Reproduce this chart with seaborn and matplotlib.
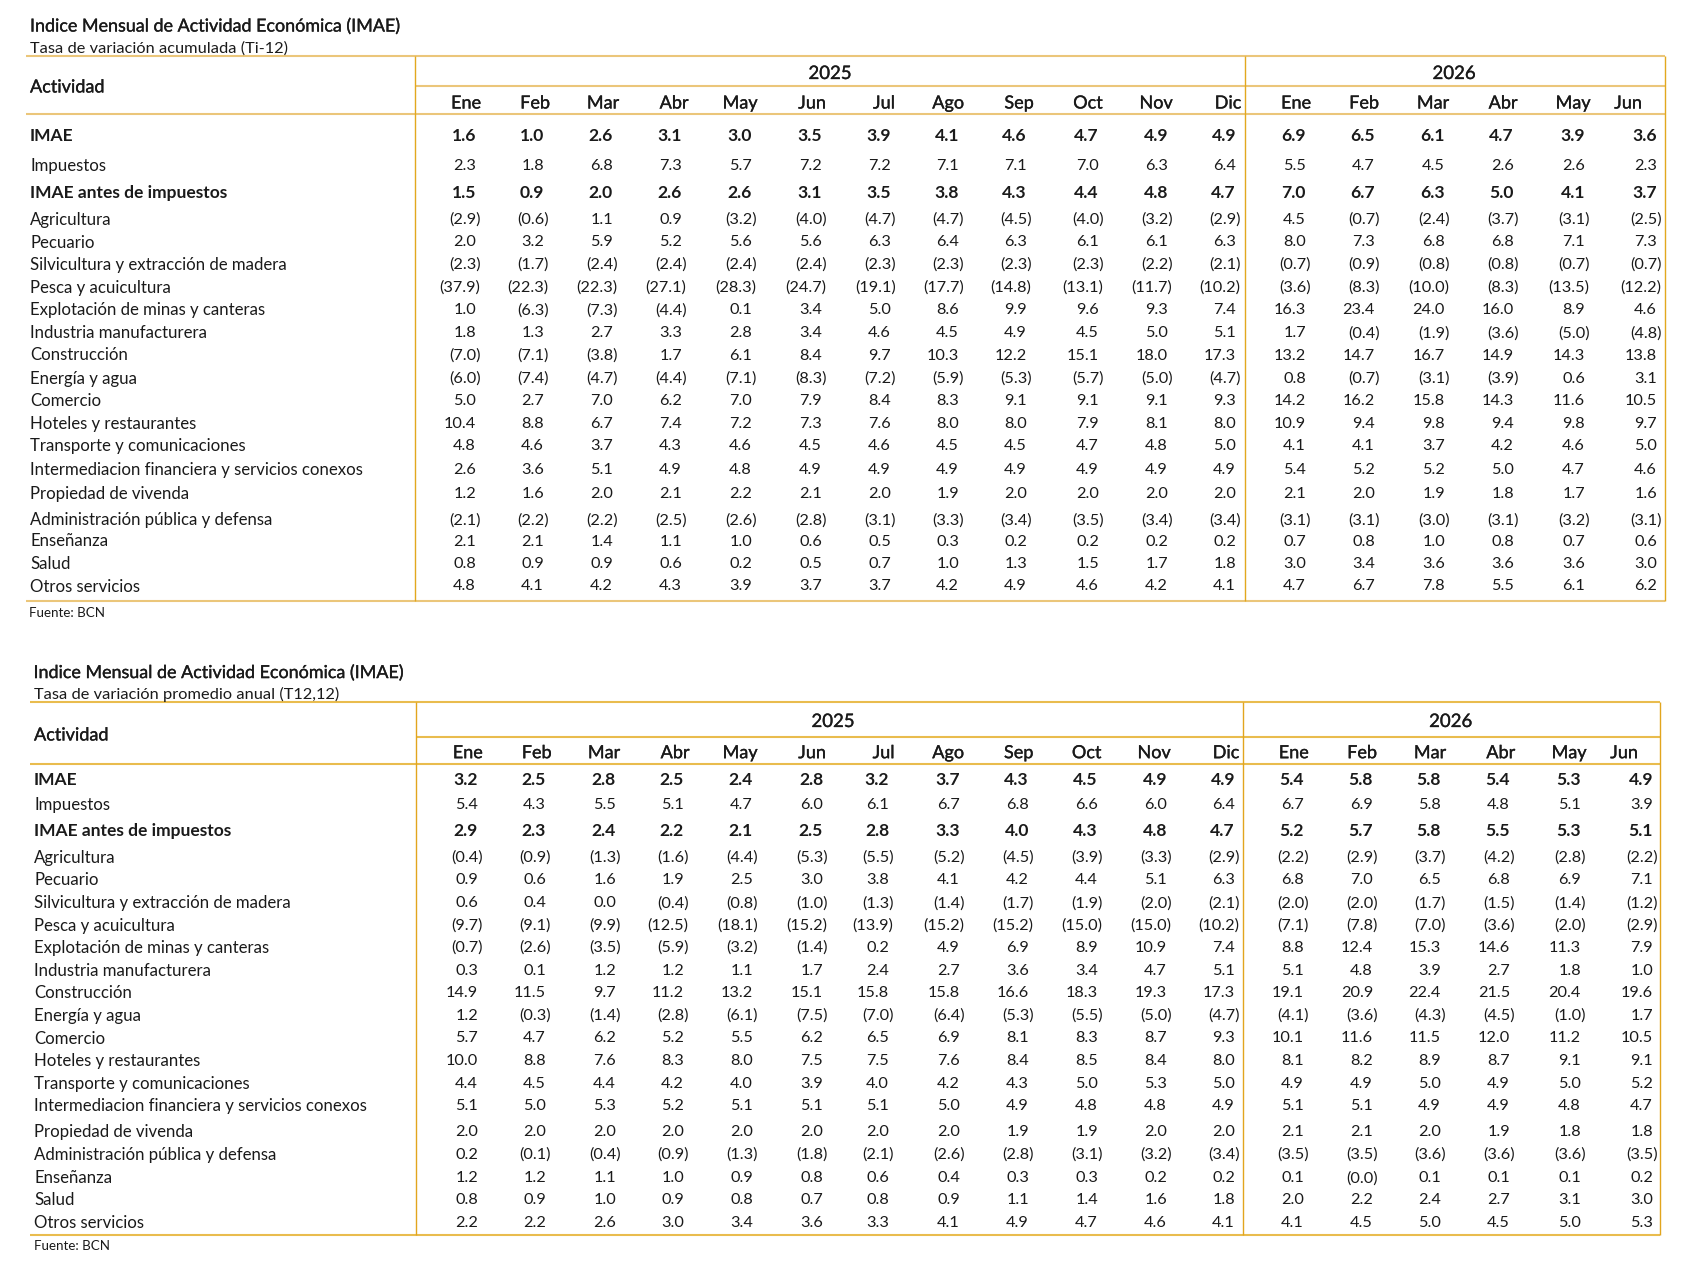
import numpy as np
import matplotlib
matplotlib.use("Agg")
import matplotlib.pyplot as plt
import matplotlib.patheffects as pe
import seaborn as sns

# ---------------- data ----------------
activities = [
    "IMAE", "Impuestos", "IMAE antes de impuestos", "Agricultura", "Pecuario",
    "Silvicultura y extracción de madera", "Pesca y acuicultura",
    "Explotación de minas y canteras", "Industria manufacturera", "Construcción",
    "Energía y agua", "Comercio", "Hoteles y restaurantes",
    "Transporte y comunicaciones", "Intermediacion financiera y servicios conexos",
    "Propiedad de vivenda", "Administración pública y defensa", "Enseñanza",
    "Salud", "Otros servicios",
]
bold_rows = ["IMAE", "IMAE antes de impuestos"]
years = ["2025", "2026"]
months_2025 = ["Ene", "Feb", "Mar", "Abr", "May", "Jun", "Jul", "Ago", "Sep", "Oct", "Nov", "Dic"]
months_2026 = ["Ene", "Feb", "Mar", "Abr", "May", "Jun"]

title_1 = "Indice Mensual de Actividad Económica (IMAE)"
subtitle_1 = "Tasa de variación acumulada (Ti-12)"
title_2 = "Indice Mensual de Actividad Económica (IMAE)"
subtitle_2 = "Tasa de variación promedio anual (T12,12)"
source_text = "Fuente: BCN"
header_label = "Actividad"

# Tasa de variación acumulada (Ti-12)
acum = [
    [1.6, 1.0, 2.6, 3.1, 3.0, 3.5, 3.9, 4.1, 4.6, 4.7, 4.9, 4.9, 6.9, 6.5, 6.1, 4.7, 3.9, 3.6],
    [2.3, 1.8, 6.8, 7.3, 5.7, 7.2, 7.2, 7.1, 7.1, 7.0, 6.3, 6.4, 5.5, 4.7, 4.5, 2.6, 2.6, 2.3],
    [1.5, 0.9, 2.0, 2.6, 2.6, 3.1, 3.5, 3.8, 4.3, 4.4, 4.8, 4.7, 7.0, 6.7, 6.3, 5.0, 4.1, 3.7],
    [-2.9, -0.6, 1.1, 0.9, -3.2, -4.0, -4.7, -4.7, -4.5, -4.0, -3.2, -2.9, 4.5, -0.7, -2.4, -3.7, -3.1, -2.5],
    [2.0, 3.2, 5.9, 5.2, 5.6, 5.6, 6.3, 6.4, 6.3, 6.1, 6.1, 6.3, 8.0, 7.3, 6.8, 6.8, 7.1, 7.3],
    [-2.3, -1.7, -2.4, -2.4, -2.4, -2.4, -2.3, -2.3, -2.3, -2.3, -2.2, -2.1, -0.7, -0.9, -0.8, -0.8, -0.7, -0.7],
    [-37.9, -22.3, -22.3, -27.1, -28.3, -24.7, -19.1, -17.7, -14.8, -13.1, -11.7, -10.2, -3.6, -8.3, -10.0, -8.3, -13.5, -12.2],
    [1.0, -6.3, -7.3, -4.4, 0.1, 3.4, 5.0, 8.6, 9.9, 9.6, 9.3, 7.4, 16.3, 23.4, 24.0, 16.0, 8.9, 4.6],
    [1.8, 1.3, 2.7, 3.3, 2.8, 3.4, 4.6, 4.5, 4.9, 4.5, 5.0, 5.1, 1.7, -0.4, -1.9, -3.6, -5.0, -4.8],
    [-7.0, -7.1, -3.8, 1.7, 6.1, 8.4, 9.7, 10.3, 12.2, 15.1, 18.0, 17.3, 13.2, 14.7, 16.7, 14.9, 14.3, 13.8],
    [-6.0, -7.4, -4.7, -4.4, -7.1, -8.3, -7.2, -5.9, -5.3, -5.7, -5.0, -4.7, 0.8, -0.7, -3.1, -3.9, 0.6, 3.1],
    [5.0, 2.7, 7.0, 6.2, 7.0, 7.9, 8.4, 8.3, 9.1, 9.1, 9.1, 9.3, 14.2, 16.2, 15.8, 14.3, 11.6, 10.5],
    [10.4, 8.8, 6.7, 7.4, 7.2, 7.3, 7.6, 8.0, 8.0, 7.9, 8.1, 8.0, 10.9, 9.4, 9.8, 9.4, 9.8, 9.7],
    [4.8, 4.6, 3.7, 4.3, 4.6, 4.5, 4.6, 4.5, 4.5, 4.7, 4.8, 5.0, 4.1, 4.1, 3.7, 4.2, 4.6, 5.0],
    [2.6, 3.6, 5.1, 4.9, 4.8, 4.9, 4.9, 4.9, 4.9, 4.9, 4.9, 4.9, 5.4, 5.2, 5.2, 5.0, 4.7, 4.6],
    [1.2, 1.6, 2.0, 2.1, 2.2, 2.1, 2.0, 1.9, 2.0, 2.0, 2.0, 2.0, 2.1, 2.0, 1.9, 1.8, 1.7, 1.6],
    [-2.1, -2.2, -2.2, -2.5, -2.6, -2.8, -3.1, -3.3, -3.4, -3.5, -3.4, -3.4, -3.1, -3.1, -3.0, -3.1, -3.2, -3.1],
    [2.1, 2.1, 1.4, 1.1, 1.0, 0.6, 0.5, 0.3, 0.2, 0.2, 0.2, 0.2, 0.7, 0.8, 1.0, 0.8, 0.7, 0.6],
    [0.8, 0.9, 0.9, 0.6, 0.2, 0.5, 0.7, 1.0, 1.3, 1.5, 1.7, 1.8, 3.0, 3.4, 3.6, 3.6, 3.6, 3.0],
    [4.8, 4.1, 4.2, 4.3, 3.9, 3.7, 3.7, 4.2, 4.9, 4.6, 4.2, 4.1, 4.7, 6.7, 7.8, 5.5, 6.1, 6.2],
]

# Tasa de variación promedio anual (T12,12)
promedio = [
    [3.2, 2.5, 2.8, 2.5, 2.4, 2.8, 3.2, 3.7, 4.3, 4.5, 4.9, 4.9, 5.4, 5.8, 5.8, 5.4, 5.3, 4.9],
    [5.4, 4.3, 5.5, 5.1, 4.7, 6.0, 6.1, 6.7, 6.8, 6.6, 6.0, 6.4, 6.7, 6.9, 5.8, 4.8, 5.1, 3.9],
    [2.9, 2.3, 2.4, 2.2, 2.1, 2.5, 2.8, 3.3, 4.0, 4.3, 4.8, 4.7, 5.2, 5.7, 5.8, 5.5, 5.3, 5.1],
    [-0.4, -0.9, -1.3, -1.6, -4.4, -5.3, -5.5, -5.2, -4.5, -3.9, -3.3, -2.9, -2.2, -2.9, -3.7, -4.2, -2.8, -2.2],
    [0.9, 0.6, 1.6, 1.9, 2.5, 3.0, 3.8, 4.1, 4.2, 4.4, 5.1, 6.3, 6.8, 7.0, 6.5, 6.8, 6.9, 7.1],
    [0.6, 0.4, 0.0, -0.4, -0.8, -1.0, -1.3, -1.4, -1.7, -1.9, -2.0, -2.1, -2.0, -2.0, -1.7, -1.5, -1.4, -1.2],
    [-9.7, -9.1, -9.9, -12.5, -18.1, -15.2, -13.9, -15.2, -15.2, -15.0, -15.0, -10.2, -7.1, -7.8, -7.0, -3.6, -2.0, -2.9],
    [-0.7, -2.6, -3.5, -5.9, -3.2, -1.4, 0.2, 4.9, 6.9, 8.9, 10.9, 7.4, 8.8, 12.4, 15.3, 14.6, 11.3, 7.9],
    [0.3, 0.1, 1.2, 1.2, 1.1, 1.7, 2.4, 2.7, 3.6, 3.4, 4.7, 5.1, 5.1, 4.8, 3.9, 2.7, 1.8, 1.0],
    [14.9, 11.5, 9.7, 11.2, 13.2, 15.1, 15.8, 15.8, 16.6, 18.3, 19.3, 17.3, 19.1, 20.9, 22.4, 21.5, 20.4, 19.6],
    [1.2, -0.3, -1.4, -2.8, -6.1, -7.5, -7.0, -6.4, -5.3, -5.5, -5.0, -4.7, -4.1, -3.6, -4.3, -4.5, -1.0, 1.7],
    [5.7, 4.7, 6.2, 5.2, 5.5, 6.2, 6.5, 6.9, 8.1, 8.3, 8.7, 9.3, 10.1, 11.6, 11.5, 12.0, 11.2, 10.5],
    [10.0, 8.8, 7.6, 8.3, 8.0, 7.5, 7.5, 7.6, 8.4, 8.5, 8.4, 8.0, 8.1, 8.2, 8.9, 8.7, 9.1, 9.1],
    [4.4, 4.5, 4.4, 4.2, 4.0, 3.9, 4.0, 4.2, 4.3, 5.0, 5.3, 5.0, 4.9, 4.9, 5.0, 4.9, 5.0, 5.2],
    [5.1, 5.0, 5.3, 5.2, 5.1, 5.1, 5.1, 5.0, 4.9, 4.8, 4.8, 4.9, 5.1, 5.1, 4.9, 4.9, 4.8, 4.7],
    [2.0, 2.0, 2.0, 2.0, 2.0, 2.0, 2.0, 2.0, 1.9, 1.9, 2.0, 2.0, 2.1, 2.1, 2.0, 1.9, 1.8, 1.8],
    [0.2, -0.1, -0.4, -0.9, -1.3, -1.8, -2.1, -2.6, -2.8, -3.1, -3.2, -3.4, -3.5, -3.5, -3.6, -3.6, -3.6, -3.5],
    [1.2, 1.2, 1.1, 1.0, 0.9, 0.8, 0.6, 0.4, 0.3, 0.3, 0.2, 0.2, 0.1, -0.0, 0.1, 0.1, 0.1, 0.2],
    [0.8, 0.9, 1.0, 0.9, 0.8, 0.7, 0.8, 0.9, 1.1, 1.4, 1.6, 1.8, 2.0, 2.2, 2.4, 2.7, 3.1, 3.0],
    [2.2, 2.2, 2.6, 3.0, 3.4, 3.6, 3.3, 4.1, 4.9, 4.7, 4.6, 4.1, 4.1, 4.5, 5.0, 4.5, 5.0, 5.3],
]

# ---------------- layout (pixel coordinates) ----------------
W, H = 1694, 1264
layout_top = dict(
    title_xy=(30, 25), sub_xy=(30, 47), left=26, right=1665, col_div=415, year_div=1244.5,
    y_top=56, y_year=86, y_head=114, y_bottom=601,
    year_x=[830, 1454], year_y=72, act_xy=(30, 86), month_y=102,
    month_x=[466, 535, 603, 674, 740, 812, 884, 948, 1019, 1088, 1156, 1228,
             1296, 1364, 1433, 1503, 1573, 1628],
    num_right=[476, 544, 613, 682, 752, 822, 891, 959, 1027, 1099, 1168, 1236,
               1306, 1375, 1445, 1514, 1585, 1657],
    row_y=[134.3, 164.3, 191.7, 218.3, 241, 263.3, 286, 309, 331.7, 354, 377.3,
           399.7, 422, 445, 468, 493, 518.7, 540, 562.7, 585],
    label_x=30, src_xy=(29, 612),
    hcolor="#EBC67A", vcolor="#E2A81E",
)
layout_bot = dict(
    title_xy=(33.5, 671.5), sub_xy=(33.5, 693.3), left=30, right=1660, col_div=416, year_div=1242.5,
    y_top=702.3, y_year=736.7, y_head=764.3, y_bottom=1235.3,
    year_x=[833, 1450.6], year_y=720, act_xy=(34, 734), month_y=751.7,
    month_x=[467.7, 536.6, 604, 675, 740, 812, 883.6, 948, 1018.6, 1086.7, 1154, 1226,
             1293.7, 1362, 1430, 1500.7, 1569, 1624],
    num_right=[478, 546, 616, 684, 753, 823, 889, 960, 1029, 1098, 1167, 1235,
               1304, 1373, 1441, 1510, 1581, 1653],
    row_y=[778.3, 803.3, 829.3, 856, 878.7, 901.7, 924, 946.3, 969.7, 991.7, 1014.3,
           1037, 1059.7, 1082.3, 1104.7, 1130.3, 1153.3, 1176.7, 1198.7, 1221.3],
    label_x=34, src_xy=(33.5, 1245.3),
    hcolor="#E9BC4E", vcolor="#E2A51E",
)

# ---------------- style ----------------
sns.set_theme(style="white")
plt.rcParams["font.family"] = ["Lato", "DejaVu Sans"]
TXT = "#1a1a1a"
MEDIUM = [pe.withStroke(linewidth=0.22, foreground=TXT)]

fig = plt.figure(figsize=(W / 100, H / 100), dpi=100)
ax = fig.add_axes([0, 0, 1, 1])
ax.set_xlim(0, W)
ax.set_ylim(H, 0)
ax.axis("off")


def fmt(v):
    return f"({abs(v):.1f})" if np.signbit(v) else f"{v:.1f}"


def draw_table(L, title, subtitle, data):
    ax.text(*L["title_xy"], title, fontsize=12.9, color=TXT, path_effects=MEDIUM,
            ha="left", va="center_baseline")
    ax.text(*L["sub_xy"], subtitle, fontsize=11.8, color=TXT, ha="left", va="center_baseline")
    hl = 1.5
    vl = 1.0
    ax.hlines([L["y_top"], L["y_head"], L["y_bottom"]], L["left"], L["right"],
              colors=L["hcolor"], lw=hl)
    ax.hlines(L["y_year"], L["col_div"], L["right"], colors=L["hcolor"], lw=hl)
    ax.vlines([L["col_div"], L["year_div"], L["right"]], L["y_top"], L["y_bottom"],
              colors=L["vcolor"], lw=vl)
    for yx, yr in zip(L["year_x"], years):
        ax.text(yx, L["year_y"], yr, fontsize=13.4, color=TXT, path_effects=MEDIUM,
                ha="center", va="center_baseline")
    ax.text(*L["act_xy"], header_label, fontsize=13.0, color=TXT, path_effects=MEDIUM,
            ha="left", va="center_baseline")
    for mx, m in zip(L["month_x"], months_2025 + months_2026):
        ax.text(mx, L["month_y"], m, fontsize=13.0, color=TXT, path_effects=MEDIUM,
                ha="center", va="center_baseline")
    for name, ry, vals in zip(activities, L["row_y"], data):
        bold = name in bold_rows
        ax.text(L["label_x"], ry, name, fontsize=12.5 if bold else 12.1,
                fontweight="bold" if bold else "normal", color=TXT,
                ha="left", va="center_baseline")
        for xr, v in zip(L["num_right"], vals):
            neg = np.signbit(v)
            ax.text(xr + (4.5 if neg else 0), ry, fmt(v),
                    fontsize=12.6 if bold else 11.7,
                    fontweight="bold" if bold else "normal", color=TXT,
                    ha="right", va="center_baseline")
    ax.text(*L["src_xy"], source_text, fontsize=9.6, color=TXT, ha="left", va="center_baseline")


draw_table(layout_top, title_1, subtitle_1, acum)
draw_table(layout_bot, title_2, subtitle_2, promedio)

fig.savefig("out.png", dpi=100, facecolor="white")
